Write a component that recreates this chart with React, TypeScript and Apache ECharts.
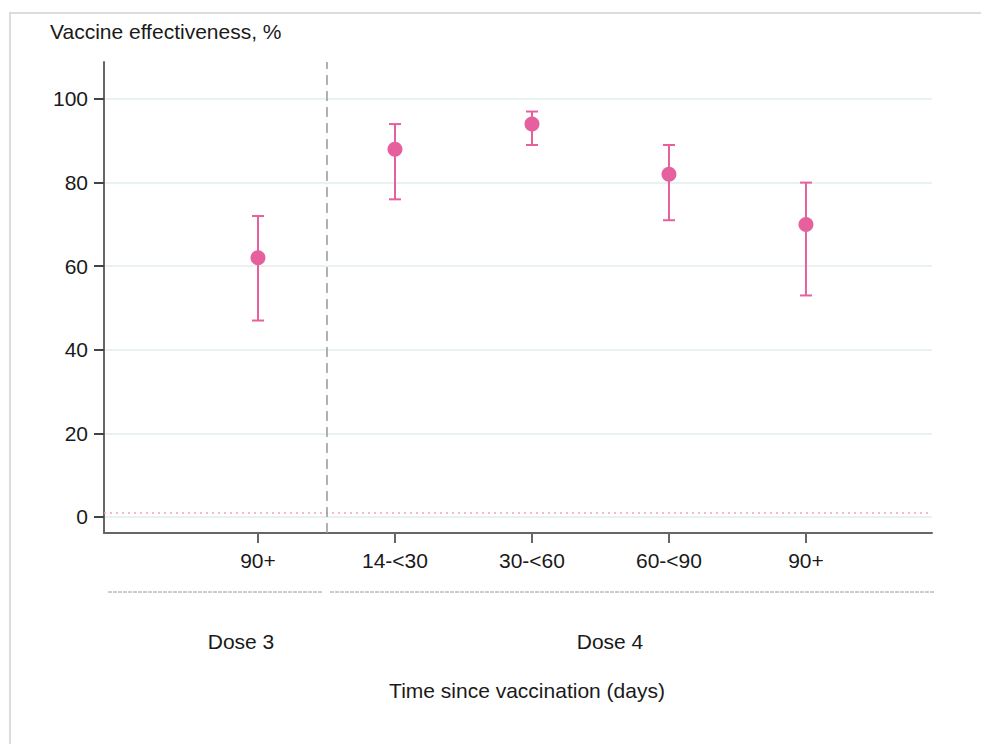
import React, { useEffect, useRef } from "react";
import * as echarts from "echarts";

const categories = ["90+", "14-<30", "30-<60", "60-<90", "90+"];
const estimates = [62, 88, 94, 82, 70];
const lowerCI = [47, 76, 89, 71, 53];
const upperCI = [72, 94, 97, 89, 80];
const yTicks = [0, 20, 40, 60, 80, 100];
const referenceLine = 1;
const doseDivider = 0.5;
const groupLabels = ["Dose 3", "Dose 4"];

const PINK = "#e6609e";
const FONT = "'Liberation Sans', Arial, sans-serif";

export default function App() {
  const ref = useRef<HTMLDivElement>(null);
  useEffect(() => {
    document.body.style.margin = "0";
    const chart = echarts.init(ref.current!, null, { renderer: "svg" });
    const xIdx = categories.map((_, i) => i);
    const option: any = {
      animation: false,
      backgroundColor: "#ffffff",
      textStyle: { fontFamily: FONT },
      grid: { left: 104, right: 49, top: 62, bottom: 211 },
      xAxis: {
        type: "value",
        min: -1.124,
        max: 4.92,
        axisLine: { show: true, onZero: false, lineStyle: { color: "#666", width: 2 } },
        axisTick: { show: true, customValues: xIdx, length: 10, lineStyle: { color: "#666", width: 2 } },
        axisLabel: {
          customValues: xIdx,
          formatter: (v: number) => categories[Math.round(v)],
          color: "#1a1a1a",
          fontSize: 21,
          fontFamily: FONT,
          margin: 17,
        },
        splitLine: { show: false },
      },
      yAxis: {
        type: "value",
        min: -3.83,
        max: 108.85,
        axisLine: { show: true, onZero: false, lineStyle: { color: "#666", width: 2 } },
        axisTick: { show: true, customValues: yTicks, length: 10, lineStyle: { color: "#444", width: 2 } },
        axisLabel: {
          customValues: yTicks,
          color: "#1a1a1a",
          fontSize: 21,
          fontFamily: FONT,
          margin: 16,
        },
        splitLine: { show: true, lineStyle: { color: "#e2eced", width: 1.5 } },
      },
      graphic: [
        {
          type: "rect",
          z: -10,
          shape: { x: 10, y: 13, width: 1000, height: 800 },
          style: { fill: "none", stroke: "#dcdcdc", lineWidth: 2 },
        },
        {
          type: "text",
          left: 50,
          top: 21,
          style: { text: "Vaccine effectiveness, %", fill: "#1a1a1a", fontSize: 21, fontFamily: FONT },
        },
        {
          type: "line",
          shape: { x1: 108, y1: 592, x2: 323, y2: 592 },
          style: { stroke: "#9a9a9a", lineWidth: 1, lineDash: [4, 1] },
        },
        {
          type: "line",
          shape: { x1: 330, y1: 592, x2: 934, y2: 592 },
          style: { stroke: "#9a9a9a", lineWidth: 1, lineDash: [4, 1] },
        },
        {
          type: "text",
          x: 241,
          y: 641,
          style: { text: groupLabels[0], fill: "#1a1a1a", fontSize: 21, fontFamily: FONT, align: "center", verticalAlign: "middle" },
        },
        {
          type: "text",
          x: 610,
          y: 641,
          style: { text: groupLabels[1], fill: "#1a1a1a", fontSize: 21, fontFamily: FONT, align: "center", verticalAlign: "middle" },
        },
        {
          type: "text",
          x: 527,
          y: 690,
          style: { text: "Time since vaccination (days)", fill: "#1a1a1a", fontSize: 21, fontFamily: FONT, align: "center", verticalAlign: "middle" },
        },
      ],
      series: [
        {
          type: "custom",
          data: xIdx.map((i) => [i, lowerCI[i], upperCI[i]]),
          encode: { x: 0, y: [1, 2] },
          z: 3,
          renderItem: (params: any, api: any) => {
            const x = api.value(0);
            const lo = api.coord([x, api.value(1)]);
            const hi = api.coord([x, api.value(2)]);
            const w = 6;
            const style = { stroke: PINK, lineWidth: 2 };
            return {
              type: "group",
              children: [
                { type: "line", shape: { x1: lo[0], y1: lo[1], x2: hi[0], y2: hi[1] }, style },
                { type: "line", shape: { x1: lo[0] - w, y1: lo[1], x2: lo[0] + w, y2: lo[1] }, style },
                { type: "line", shape: { x1: hi[0] - w, y1: hi[1], x2: hi[0] + w, y2: hi[1] }, style },
              ],
            };
          },
        },
        {
          type: "scatter",
          z: 4,
          symbol: "circle",
          symbolSize: 15,
          itemStyle: { color: PINK, opacity: 1 },
          data: xIdx.map((i) => [i, estimates[i]]),
          markLine: {
            silent: true,
            symbol: "none",
            label: { show: false },
            data: [
              { yAxis: referenceLine, lineStyle: { color: "#f3a3b8", type: [2, 4], width: 1.5 } },
              { xAxis: doseDivider, lineStyle: { color: "#999", type: [10, 6], width: 1.5 } },
            ],
          },
        },
      ],
    };
    chart.setOption(option);
    return () => chart.dispose();
  }, []);
  return <div ref={ref} style={{ position: "absolute", left: 0, top: 0, width: 981, height: 744 }} />;
}
